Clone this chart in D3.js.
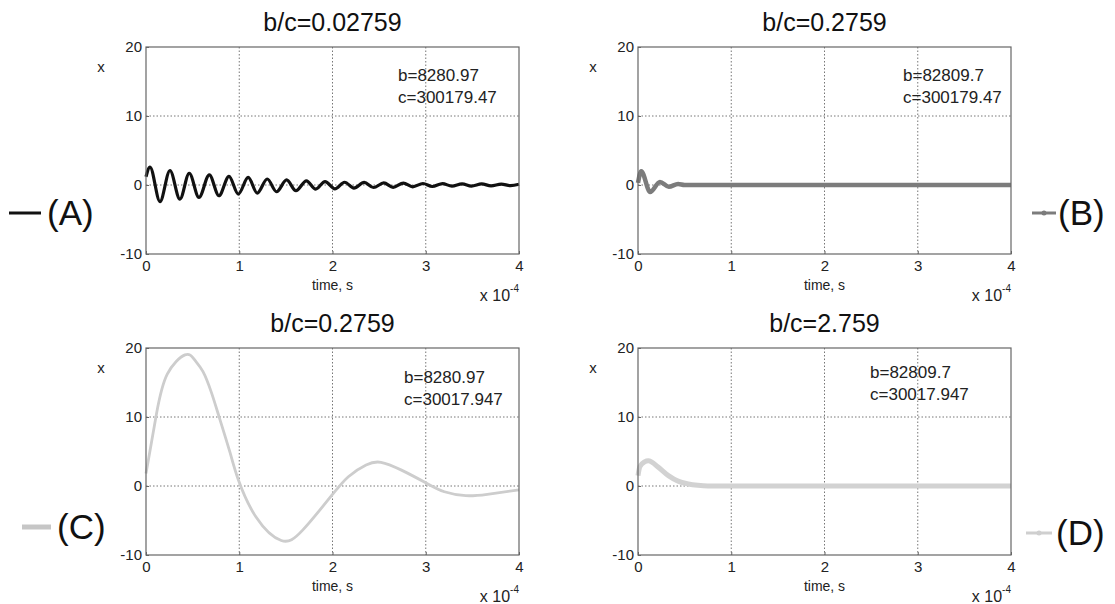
<!DOCTYPE html>
<html>
<head>
<meta charset="utf-8">
<script src="https://cdn.jsdelivr.net/npm/d3@7"></script>
<style>
  body { margin: 0; background: #fff; }
  svg { display: block; font-family: "Liberation Sans", Arial, sans-serif; }
</style>
</head>
<body>
<svg id="chart" width="1115" height="604"></svg>
<script>
const xTicks = [0, 1, 2, 3, 4];
const yTicks = [-10, 0, 10, 20];

// (A) b/c=0.02759 : start, then peaks / troughs (time in 1e-4 s)
const timeA = [0, 0.043, 0.15, 0.257, 0.364, 0.464, 0.568, 0.679, 0.782, 0.89, 0.99, 1.096, 1.193, 1.3, 1.4, 1.508, 1.608,
  1.72, 1.82, 1.92, 2.025, 2.13, 2.23, 2.34, 2.44, 2.55, 2.65, 2.76, 2.86, 2.97, 3.07, 3.18, 3.28, 3.39, 3.49, 3.6, 3.7, 3.81, 3.91, 4.0];
const xA = [1.2, 2.6, -2.4, 2.1, -2.05, 1.7, -1.8, 1.46, -1.56, 1.26, -1.31, 1.1, -1.17, 0.87, -0.98, 0.73, -0.83,
  0.6, -0.6, 0.5, -0.55, 0.4, -0.45, 0.38, -0.36, 0.3, -0.33, 0.28, -0.26, 0.22, -0.22, 0.2, -0.16, 0.17, -0.15, 0.15, -0.12, 0.13, -0.1, 0.1];

// (B) b/c=0.2759
const timeB = [0, 0.035, 0.13, 0.235, 0.33, 0.43, 0.5, 1, 2, 3, 4];
const xB = [0.3, 2.0, -1.0, 0.45, -0.25, 0.15, 0, 0, 0, 0, 0];

// (C) b/c=0.2759, c=30017.947
const timeC = [0, 0.113, 0.228, 0.418, 0.52, 0.61, 0.7, 0.78, 0.9, 0.99, 1.18, 1.45, 1.68, 1.98, 2.17, 2.36, 2.52, 2.74, 3.01, 3.2, 3.43, 3.66, 4.0];
const xC = [1.8, 10.5, 16.2, 19.0, 18.3, 16.6, 13.6, 10.2, 4.9, 0.9, -4.5, -7.9, -6.4, -1.55, 1.35, 3.05, 3.44, 2.3, 0.39, -0.83, -1.4, -1.2, -0.56];

// (D) b/c=2.759
const timeD = [0, 0.02, 0.07, 0.11, 0.22, 0.326, 0.43, 0.54, 0.64, 0.75, 1, 2, 3, 4];
const xD = [1.5, 2.8, 3.5, 3.65, 2.7, 1.5, 0.7, 0.3, 0.1, 0, 0, 0, 0, 0];

const titles = ["b/c=0.02759", "b/c=0.2759", "b/c=0.2759", "b/c=2.759"];
const bLabels = ["b=8280.97", "b=82809.7", "b=8280.97", "b=82809.7"];
const cLabels = ["c=300179.47", "c=300179.47", "c=30017.947", "c=30017.947"];
const legendLabels = ["(A)", "(B)", "(C)", "(D)"];

const panels = [
  { t: timeA, v: xA, left: 146, top: 47, color: "#111", lw: 3.2, noteX: 398, noteY: 81, curve: d3.curveMonotoneX,
    leg: { x1: 9, x2: 41, y: 213, tx: 47, w: 3, color: "#111", dot: false } },
  { t: timeB, v: xB, left: 638, top: 47, color: "#7c7c7c", lw: 4.5, noteX: 903, noteY: 81, curve: d3.curveMonotoneX,
    leg: { x1: 1032, x2: 1056, y: 213, tx: 1058, w: 3, color: "#7c7c7c", dot: true } },
  { t: timeC, v: xC, left: 146, top: 348, color: "#cdcdcd", lw: 2.8, noteX: 404, noteY: 383, curve: d3.curveNatural,
    leg: { x1: 22, x2: 51, y: 527, tx: 57, w: 5, color: "#c6c6c6", dot: false } },
  { t: timeD, v: xD, left: 638, top: 348, color: "#d2d2d2", lw: 5, noteX: 870, noteY: 378, curve: d3.curveMonotoneX,
    leg: { x1: 1026, x2: 1052, y: 533, tx: 1056, w: 3, color: "#cfcfcf", dot: true } }
];

const W = 373, H = 207;
const svg = d3.select("#chart");
svg.append("rect").attr("width", 1115).attr("height", 604).attr("fill", "#fff");

panels.forEach((p, i) => {
  const x = d3.scaleLinear().domain([0, 4]).range([0, W]);
  const y = d3.scaleLinear().domain([-10, 20]).range([H, 0]);
  const g = svg.append("g").attr("transform", `translate(${p.left},${p.top})`);

  // dotted grid
  g.append("g").selectAll("line").data(xTicks.slice(1, -1)).join("line")
    .attr("x1", d => x(d)).attr("x2", d => x(d)).attr("y1", 0).attr("y2", H)
    .attr("stroke", "#666").attr("stroke-width", 0.9).attr("stroke-dasharray", "1.5,2");
  g.append("g").selectAll("line").data(yTicks.slice(1, -1)).join("line")
    .attr("y1", d => y(d)).attr("y2", d => y(d)).attr("x1", 0).attr("x2", W)
    .attr("stroke", "#666").attr("stroke-width", 0.9).attr("stroke-dasharray", "1.5,2");

  // axes (plain hyphen for negatives, like the original)
  const xa = g.append("g").attr("transform", `translate(0,${H})`)
    .call(d3.axisBottom(x).tickValues(xTicks).tickSize(-3).tickPadding(6).tickFormat(d => String(d)));
  const ya = g.append("g")
    .call(d3.axisLeft(y).tickValues(yTicks).tickSize(-3).tickPadding(4).tickFormat(d => String(d)));
  [xa, ya].forEach(a => {
    a.select(".domain").remove();
    a.selectAll(".tick line").attr("stroke", "#666");
    a.selectAll("text").attr("font-size", 15).attr("fill", "#222").attr("font-family", "Liberation Sans, Arial, sans-serif");
  });

  // data line
  const line = d3.line().x((d, k) => x(p.t[k])).y(d => y(d)).curve(p.curve);
  g.append("path").attr("d", line(p.v)).attr("fill", "none")
    .attr("stroke", p.color).attr("stroke-width", p.lw).attr("stroke-linejoin", "round");

  // box
  g.append("rect").attr("width", W).attr("height", H).attr("fill", "none")
    .attr("stroke", "#666").attr("stroke-width", 1.2);

  // labels
  g.append("text").attr("x", W / 2).attr("y", -16).attr("text-anchor", "middle")
    .attr("font-size", 25).attr("fill", "#111").text(titles[i]);
  g.append("text").attr("x", -45).attr("y", 25).attr("text-anchor", "middle")
    .attr("font-size", 15).attr("fill", "#222").text("x");
  g.append("text").attr("x", W / 2).attr("y", H + 36).attr("text-anchor", "middle")
    .attr("font-size", 14).attr("fill", "#222").text("time, s");
  const ex = g.append("text").attr("x", W).attr("y", H + 47).attr("text-anchor", "end")
    .attr("font-size", 16).attr("fill", "#222");
  ex.append("tspan").text("x 10");
  ex.append("tspan").attr("dy", -9).attr("font-size", 10).text("-4");

  svg.append("text").attr("x", p.noteX).attr("y", p.noteY)
    .attr("font-size", 17).attr("fill", "#222").text(bLabels[i]);
  svg.append("text").attr("x", p.noteX).attr("y", p.noteY + 22)
    .attr("font-size", 17).attr("fill", "#222").text(cLabels[i]);

  // legend swatch
  const L = p.leg;
  svg.append("line").attr("x1", L.x1).attr("x2", L.x2).attr("y1", L.y).attr("y2", L.y)
    .attr("stroke", L.color).attr("stroke-width", L.w);
  if (L.dot) {
    svg.append("circle").attr("cx", (L.x1 + L.x2) / 2).attr("cy", L.y).attr("r", 2.5).attr("fill", L.color);
  }
  svg.append("text").attr("x", L.tx).attr("y", L.y + 12)
    .attr("font-size", 35).attr("fill", "#111").text(legendLabels[i]);
});
</script>
</body>
</html>
